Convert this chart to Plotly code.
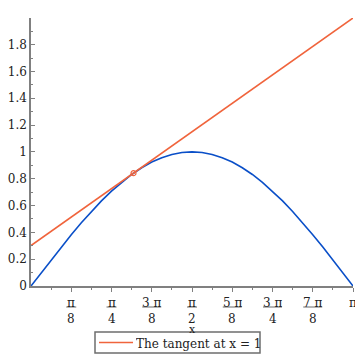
import plotly.graph_objects as go

# sin(x) curve
curve_x = [0.0, 0.0982, 0.1963, 0.2945, 0.3927, 0.4909, 0.5890, 0.6872, 0.7854,
           0.8836, 0.9817, 1.0799, 1.1781, 1.2763, 1.3744, 1.4726, 1.5708,
           1.6690, 1.7671, 1.8653, 1.9635, 2.0617, 2.1598, 2.2580, 2.3562,
           2.4544, 2.5525, 2.6507, 2.7489, 2.8471, 2.9452, 3.0434, 3.1416]
curve_y = [0.0, 0.0980, 0.1951, 0.2903, 0.3827, 0.4714, 0.5556, 0.6344, 0.7071,
           0.7730, 0.8315, 0.8819, 0.9239, 0.9569, 0.9808, 0.9952, 1.0,
           0.9952, 0.9808, 0.9569, 0.9239, 0.8819, 0.8315, 0.7730, 0.7071,
           0.6344, 0.5556, 0.4714, 0.3827, 0.2903, 0.1951, 0.0980, 0.0]

# tangent line
tangent_x = [0.0, 3.1416]
tangent_y = [0.3012, 1.9983]
tangent_name = "The tangent at x = 1"

# point of tangency
point_x = [1.0]
point_y = [0.8415]

# x tick labels
tick_vals = [0.3927, 0.7854, 1.1781, 1.5708, 1.9635, 2.3562, 2.7489, 3.1416]
tick_num = ["π", "π", "3 π", "π", "5 π", "3 π", "7 π", "π"]
tick_den = ["8", "4", "8", "2", "8", "4", "8", ""]
minor_vals = [0.1963, 0.5890, 0.9817, 1.3744, 1.7671, 2.1598, 2.5525, 2.9452]

y_ticks = [0, 0.2, 0.4, 0.6, 0.8, 1, 1.2, 1.4, 1.6, 1.8]
y_labels = ["0", "0.2", "0.4", "0.6", "0.8", "1", "1.2", "1.4", "1.6", "1.8"]

X_MAX = 3.1416
Y_MAX = 1.9983

BLUE = "#0a4fc8"
ORANGE = "#f0643c"
AXIS = "#808080"
FONT = "DejaVu Serif"
TXT = "#222222"

# plot-area size in pixels (for converting pixel offsets to paper units)
PW, PH = 322.0, 268.0

fig = go.Figure()
fig.add_trace(go.Scatter(x=curve_x, y=curve_y, mode="lines",
                         line=dict(color=BLUE, width=1.6), showlegend=False,
                         hoverinfo="skip"))
fig.add_trace(go.Scatter(x=tangent_x, y=tangent_y, mode="lines",
                         line=dict(color=ORANGE, width=1.6),
                         name=tangent_name, showlegend=False))
fig.add_trace(go.Scatter(x=point_x, y=point_y, mode="markers",
                         marker=dict(symbol="circle-open", size=5, color=ORANGE,
                                     line=dict(width=1.2, color=ORANGE)),
                         showlegend=False))

# stacked-fraction tick labels drawn as annotations + fraction bars
annotations = []
shapes = []
for v, n, d in zip(tick_vals, tick_num, tick_den):
    xp = v / X_MAX
    annotations.append(dict(xref="paper", yref="paper", x=xp, y=-0.063,
                            text=n, showarrow=False, xanchor="center",
                            yanchor="middle", height=12, borderpad=0,
                            font=dict(family=FONT, size=12, color=TXT)))
    if not d:
        continue
    annotations.append(dict(xref="paper", yref="paper", x=xp, y=-0.122,
                            text=d, showarrow=False, xanchor="center",
                            yanchor="middle", height=12, borderpad=0,
                            font=dict(family=FONT, size=12, color=TXT)))
    half = (5 if len(n) == 1 else 9.5) / PW
    shapes.append(dict(type="line", xref="paper", yref="paper",
                       x0=xp - half, x1=xp + half, y0=-0.0784, y1=-0.0784,
                       line=dict(color="#b4b4b4", width=2)))

# axis title
annotations.append(dict(xref="paper", yref="paper", x=0.5, y=-0.159,
                        text="x", showarrow=False, xanchor="center",
                        yanchor="middle", height=8, borderpad=0,
                        font=dict(family=FONT, size=11, color=TXT)))

# legend box (drawn below the axis title)
shapes.append(dict(type="rect", xref="paper", yref="paper",
                   x0=(95 - 31) / PW, x1=(260 - 31) / PW,
                   y0=-67 / PH, y1=-46 / PH,
                   line=dict(color="#6e6e6e", width=1.5), fillcolor="white"))
shapes.append(dict(type="line", xref="paper", yref="paper",
                   x0=(99 - 31) / PW, x1=(133 - 31) / PW,
                   y0=-56.5 / PH, y1=-56.5 / PH,
                   line=dict(color=ORANGE, width=1.6)))
annotations.append(dict(xref="paper", yref="paper", x=(135 - 31) / PW,
                        y=-57.5 / PH, text=tangent_name, showarrow=False,
                        xanchor="left", yanchor="middle", height=14,
                        borderpad=0,
                        font=dict(family=FONT, size=12, color=TXT)))

fig.update_layout(
    width=355, height=355,
    margin=dict(l=31, r=2, t=18, b=69),
    paper_bgcolor="white", plot_bgcolor="white",
    font=dict(family=FONT, size=12, color=TXT),
    shapes=shapes, annotations=annotations, showlegend=False,
    xaxis=dict(range=[0, X_MAX], tickmode="array", tickvals=tick_vals,
               showticklabels=False, ticks="outside", ticklen=4, tickwidth=1.2,
               tickcolor=AXIS, showline=True, linecolor=AXIS, linewidth=1.5,
               showgrid=False, zeroline=False, automargin=False,
               minor=dict(tickmode="array", tickvals=minor_vals, ticks="outside",
                          ticklen=2, tickwidth=1.2, tickcolor=AXIS)),
    yaxis=dict(range=[0, Y_MAX], tickmode="array", tickvals=y_ticks,
               ticktext=y_labels, ticks="inside", ticklen=4, tickwidth=1.2,
               tickcolor=AXIS, showline=True, linecolor=AXIS, linewidth=1.5,
               showgrid=False, zeroline=False, automargin=False,
               tickfont=dict(family=FONT, size=12, color=TXT),
               minor=dict(dtick=0.1, tick0=0, ticks="inside", ticklen=2,
                          tickwidth=1.2, tickcolor=AXIS)),
)

fig.write_html("out.html", config={"displayModeBar": False},
               post_script="document.body.style.margin='0';"
                           "document.body.style.overflow='hidden';")
